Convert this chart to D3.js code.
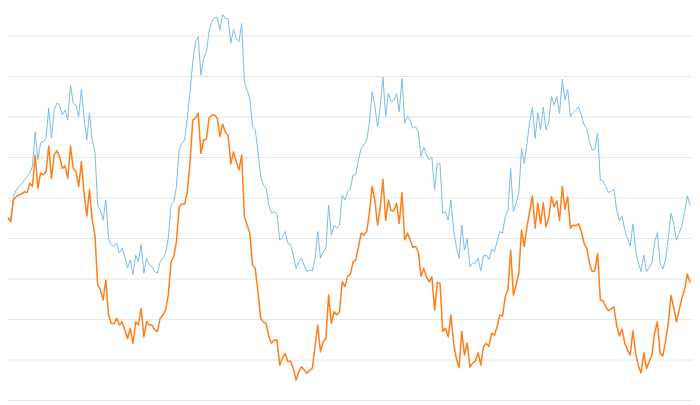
<!DOCTYPE html>
<html>
<head>
<meta charset="utf-8">
<script src="https://cdn.jsdelivr.net/npm/d3@7"></script>
<style>
  html, body { margin: 0; padding: 0; background: #ffffff; }
  svg { display: block; }
</style>
</head>
<body>
<svg id="chart" width="700" height="405"></svg>
<script>
// Series values (index-based, evenly spaced samples)
const seriesBlue = [
45.3,44.6,50.2,51.8,52.7,53.3,54.2,55.1,56.0,57.8,
66.2,59.3,63.5,63.8,64.7,72.1,64.7,71.6,73.3,72.8,
70.4,71.6,69.1,77.8,73.3,72.8,70.0,76.7,69.6,64.2,
70.9,64.2,61.3,48.1,46.9,44.4,49.4,40.0,38.3,37.9,
38.8,36.3,37.5,35.4,32.6,34.6,30.9,35.8,34.1,38.4,
31.3,35.0,33.3,32.9,31.7,31.3,34.1,35.0,36.2,39.9,
48.1,49.0,52.7,62.1,63.4,64.2,69.6,76.1,83.5,88.5,
89.7,80.2,84.4,86.0,90.9,93.4,94.4,94.4,91.4,95.2,
94.2,94.2,88.1,91.5,89.3,88.5,93.0,78.6,76.5,74.5,
67.5,66.7,61.3,55.1,53.1,52.3,48.1,46.1,46.5,46.1,
39.5,40.3,41.6,38.7,38.4,35.8,32.5,34.1,35.0,33.3,
31.7,32.1,31.9,35.0,41.6,35.0,36.6,37.5,48.1,40.7,
43.2,42.4,43.2,50.6,49.4,51.4,52.1,55.6,55.6,59.3,
62.1,63.0,64.2,68.3,76.1,72.8,67.5,72.4,79.7,70.0,
75.7,73.7,73.9,75.7,71.2,79.4,68.3,70.0,69.1,67.1,
67.5,66.2,60.1,62.4,60.5,59.3,59.9,51.9,58.4,58.3,
46.1,46.5,44.4,49.4,42.0,37.9,35.0,43.2,37.0,39.9,
32.9,33.8,33.8,35.0,31.9,35.6,35.8,34.7,37.2,36.6,
39.1,41.6,41.2,45.3,46.7,57.2,46.5,48.6,51.0,62.1,
58.4,63.4,68.7,72.3,64.6,70.9,66.7,72.3,66.7,68.7,
74.9,72.8,74.9,70.8,79.2,74.1,76.7,70.0,71.0,71.6,
72.4,70.4,67.9,67.1,63.8,61.7,61.9,66.0,54.3,54.1,
52.7,51.2,51.6,52.0,46.9,44.3,45.4,42.0,39.9,38.0,
43.5,37.0,33.8,31.7,35.8,31.7,32.8,33.9,39.1,41.3,
33.8,32.3,34.6,39.9,46.1,43.6,39.5,41.2,43.0,46.5,
50.4,48.1
];
const seriesOrange = [
44.9,44.0,49.4,50.2,50.6,50.9,51.4,51.2,53.5,52.7,
60.5,52.3,56.0,55.6,56.4,62.7,54.7,60.5,61.6,60.1,
57.2,57.8,54.7,62.7,57.2,56.4,52.7,58.8,51.0,45.4,
51.9,44.4,40.7,28.4,27.2,24.7,29.6,21.0,18.9,18.8,
20.2,18.5,19.3,17.3,15.2,17.7,14.0,19.3,18.5,22.6,
15.6,19.3,18.5,18.5,17.3,16.9,20.2,21.0,22.2,25.9,
34.1,35.4,39.1,47.7,48.4,48.4,51.4,58.8,69.1,69.6,
70.8,60.9,64.2,64.4,69.6,70.4,70.4,69.6,65.0,68.1,
66.2,65.4,58.3,61.3,58.8,56.8,60.5,45.3,43.2,41.2,
33.3,32.5,26.7,20.2,19.3,18.9,15.6,14.0,14.8,14.8,
8.6,10.3,11.5,9.5,9.6,7.8,4.9,7.0,8.2,7.4,
6.6,7.4,7.8,13.2,18.5,11.9,14.4,15.2,25.9,18.9,
21.8,21.0,21.8,29.2,28.0,30.6,31.1,34.1,34.6,37.9,
41.2,40.7,41.6,46.1,52.7,49.4,43.2,47.7,54.5,44.4,
49.4,46.7,46.7,48.6,43.6,51.2,39.5,41.2,39.5,37.7,
37.9,36.6,30.6,32.5,30.4,29.2,30.4,22.2,29.0,28.8,
16.9,17.7,15.6,21.0,14.0,10.3,8.0,16.9,11.1,14.1,
8.1,9.1,9.6,11.7,8.6,13.2,14.0,13.2,16.5,16.0,
18.1,21.0,20.7,25.5,27.2,37.0,25.9,28.4,31.3,42.0,
37.9,42.8,46.5,50.4,42.4,48.6,43.5,48.7,42.8,44.9,
50.2,47.7,49.2,44.3,52.7,47.1,50.2,42.4,43.2,43.0,
43.5,41.6,38.7,37.5,33.8,31.7,31.9,36.2,24.7,24.5,
23.0,22.0,22.5,23.0,18.5,15.8,17.5,14.0,12.3,11.1,
17.1,11.5,8.4,6.7,11.7,7.8,9.5,11.1,16.6,19.3,
11.5,10.9,14.4,18.9,25.8,22.9,19.3,22.2,25.1,27.2,
31.1,29.0
];
const yTicks = [0,10,20,30,40,50,60,70,80,90];

const svg = d3.select("#chart");
const N = seriesBlue.length;

const x = d3.scaleLinear().domain([0, N - 1]).range([8, 690]);
const y = d3.scaleLinear().domain([0, 90]).range([400, 35.5]);

// Gridlines
const grid = svg.append("g")
  .attr("transform", "translate(8,0)")
  .call(d3.axisLeft(y).tickValues(yTicks).tickSize(-684).tickFormat(""));
grid.select(".domain").remove();
grid.selectAll(".tick line").attr("stroke", "#e6e6e6").attr("stroke-width", 1);

const line = d3.line()
  .x((d, i) => x(i))
  .y(d => y(d));

svg.append("path")
  .datum(seriesBlue)
  .attr("fill", "none")
  .attr("stroke", "#7cbde9")
  .attr("stroke-width", 1)
  .attr("stroke-linejoin", "round")
  .attr("d", line);

svg.append("path")
  .datum(seriesOrange)
  .attr("fill", "none")
  .attr("stroke", "#ff7f1a")
  .attr("stroke-width", 1.5)
  .attr("stroke-linejoin", "round")
  .attr("d", line);
</script>
</body>
</html>
